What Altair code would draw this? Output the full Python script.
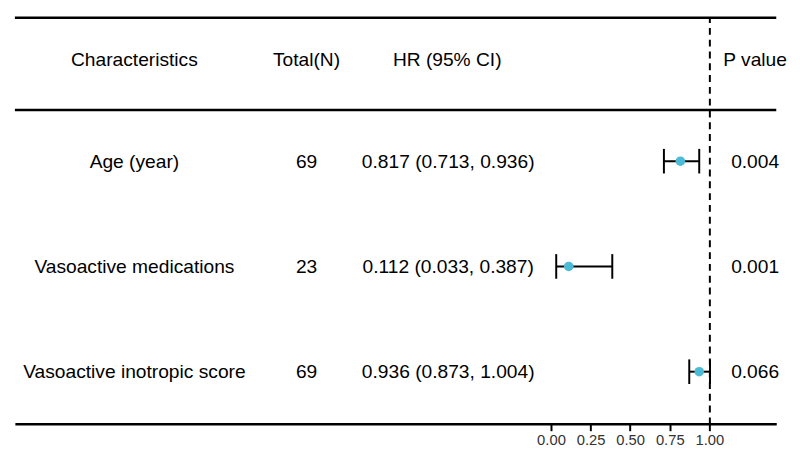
import json
import altair as alt
import pandas as pd

# ---- data ----
characteristics = ["Age (year)", "Vasoactive medications", "Vasoactive inotropic score"]
totals = [69, 23, 69]
hr = [0.817, 0.112, 0.936]
lower = [0.713, 0.033, 0.873]
upper = [0.936, 0.387, 1.004]
pvals = ["0.004", "0.001", "0.066"]
headers = ["Characteristics", "Total(N)", "HR (95% CI)", "P value"]
tick_values = [0.0, 0.25, 0.5, 0.75, 1.0]
ref_value = 1.0

rows = list(range(1, len(characteristics) + 1))
hr_text = [f"{h:.3f} ({l:.3f}, {u:.3f})" for h, l, u in zip(hr, lower, upper)]
df = pd.DataFrame({
    "row": rows,
    "hr": hr,
    "lo": lower,
    "hi": upper,
    "ref": [ref_value] * len(characteristics),
})

# ---- layout (scale units) ----
W, H = 774, 414
FONT = "Liberation Sans"
FS = 19.5
X0, X1 = -3.3851, 1.4224
Y0, Y1 = -0.3738, 3.4953
PX = (X1 - X0) / W
PY = (Y1 - Y0) / H
def xs(px):
    return X0 + px * PX
def ys(px):
    return Y0 + px * PY
def num(v):
    return repr(round(float(v), 5))

COL_X = [121, 296, 440, 752]
HEAD_X = [121, 296, 439, 752]

xscale = alt.Scale(domain=[X0, X1], nice=False, zero=False)
yscale = alt.Scale(domain=[Y0, Y1], reverse=True, nice=False, zero=False)

base = alt.Chart(df)
first = base.transform_filter("datum.row == 1")

# ---- interval marks ----
ci = base.mark_rule(color="black", strokeWidth=2).encode(
    x=alt.X("lo:Q", scale=xscale,
            axis=alt.Axis(orient="bottom", values=tick_values, format=".2f", title=None,
                          grid=False, domainColor="black", domainWidth=2.5,
                          tickColor="black", tickWidth=2, tickSize=7, labelFontSize=15,
                          labelFont=FONT, labelColor="#333333", labelPadding=2)),
    x2="hi:Q",
    y=alt.Y("row:Q", scale=yscale, axis=None),
)
cap_lo = base.mark_rule(color="black", strokeWidth=2, yOffset=-12.5, y2Offset=12.5).encode(
    x=alt.X("lo:Q", scale=xscale, axis=None),
    y=alt.Y("row:Q", scale=yscale, axis=None), y2="row:Q")
cap_hi = base.mark_rule(color="black", strokeWidth=2, yOffset=-12.5, y2Offset=12.5).encode(
    x=alt.X("hi:Q", scale=xscale, axis=None),
    y=alt.Y("row:Q", scale=yscale, axis=None), y2="row:Q")
pts = base.mark_circle(color="#4DBBD5", opacity=1, size=95).encode(
    x=alt.X("hr:Q", scale=xscale, axis=None),
    y=alt.Y("row:Q", scale=yscale, axis=None))

# ---- table lines ----
def hline(ypx):
    return first.transform_calculate(lx=num(X0), lx2=num(X1), ly=num(ys(ypx))).mark_rule(
        color="black", strokeWidth=2.5
    ).encode(
        x=alt.X("lx:Q", scale=xscale, axis=None), x2="lx2:Q",
        y=alt.Y("ly:Q", scale=yscale, axis=None))

top_line = hline(1.3)
header_line = hline(95)

# ---- reference line (dashed grid at HR = 1) ----
ref_layer = first.mark_point(opacity=0).encode(
    x=alt.X("ref:Q", scale=xscale,
            axis=alt.Axis(orient="bottom", values=[ref_value], grid=True, gridDash=[7, 5],
                          gridColor="black", gridWidth=2, labels=False, ticks=False,
                          domain=False, title=None)),
    y=alt.Y("row:Q", scale=yscale, axis=None),
)

# ---- text columns as axis labels ----
def text_axis_y(labels, xpx):
    expr = json.dumps([""] + [str(v) for v in labels]) + "[datum.value]"
    return base.mark_point(opacity=0).encode(
        x=alt.X("hr:Q", scale=xscale, axis=None),
        y=alt.Y("row:Q", scale=yscale,
                axis=alt.Axis(orient="left", offset=-xpx, values=rows, labelExpr=expr,
                              domain=False, ticks=False, tickSize=0, grid=False,
                              labelPadding=0, labelAlign="center", labelBaseline="middle",
                              labelFontSize=FS, labelFont=FONT, labelColor="black",
                              labelLimit=600, labelOverlap=False, labelFlush=False,
                              labelBound=False, title=None)),
    )

head_vals = [round(xs(p), 5) for p in HEAD_X]
mids = [(a + b) / 2 for a, b in zip(head_vals[:-1], head_vals[1:])]
head_expr = (f"datum.value < {mids[0]:.5f} ? {json.dumps(headers[0])} : "
             f"datum.value < {mids[1]:.5f} ? {json.dumps(headers[1])} : "
             f"datum.value < {mids[2]:.5f} ? {json.dumps(headers[2])} : {json.dumps(headers[3])}")

header_layer = first.mark_point(opacity=0).encode(
    x=alt.X("hr:Q", scale=xscale,
            axis=alt.Axis(orient="top", offset=-44, values=head_vals, labelExpr=head_expr,
                          domain=False, ticks=False, tickSize=0, grid=False,
                          labelPadding=0, labelAlign="center", labelBaseline="middle",
                          labelFontSize=FS, labelFont=FONT, labelColor="black",
                          labelLimit=600, labelOverlap=False, labelFlush=False,
                          labelBound=False, title=None)),
    y=alt.Y("row:Q", scale=yscale, axis=None),
)

chart = alt.layer(
    ref_layer, ci, cap_lo, cap_hi, pts, top_line, header_line,
    text_axis_y(characteristics, COL_X[0]),
    text_axis_y(totals, COL_X[1]),
    text_axis_y(hr_text, COL_X[2]),
    text_axis_y(pvals, COL_X[3]),
    header_layer,
).resolve_axis(
    x="independent", y="independent"
).properties(
    width=W, height=H,
).configure_view(strokeWidth=0)

chart.save("out.html", embed_options={"renderer": "svg", "actions": False})
